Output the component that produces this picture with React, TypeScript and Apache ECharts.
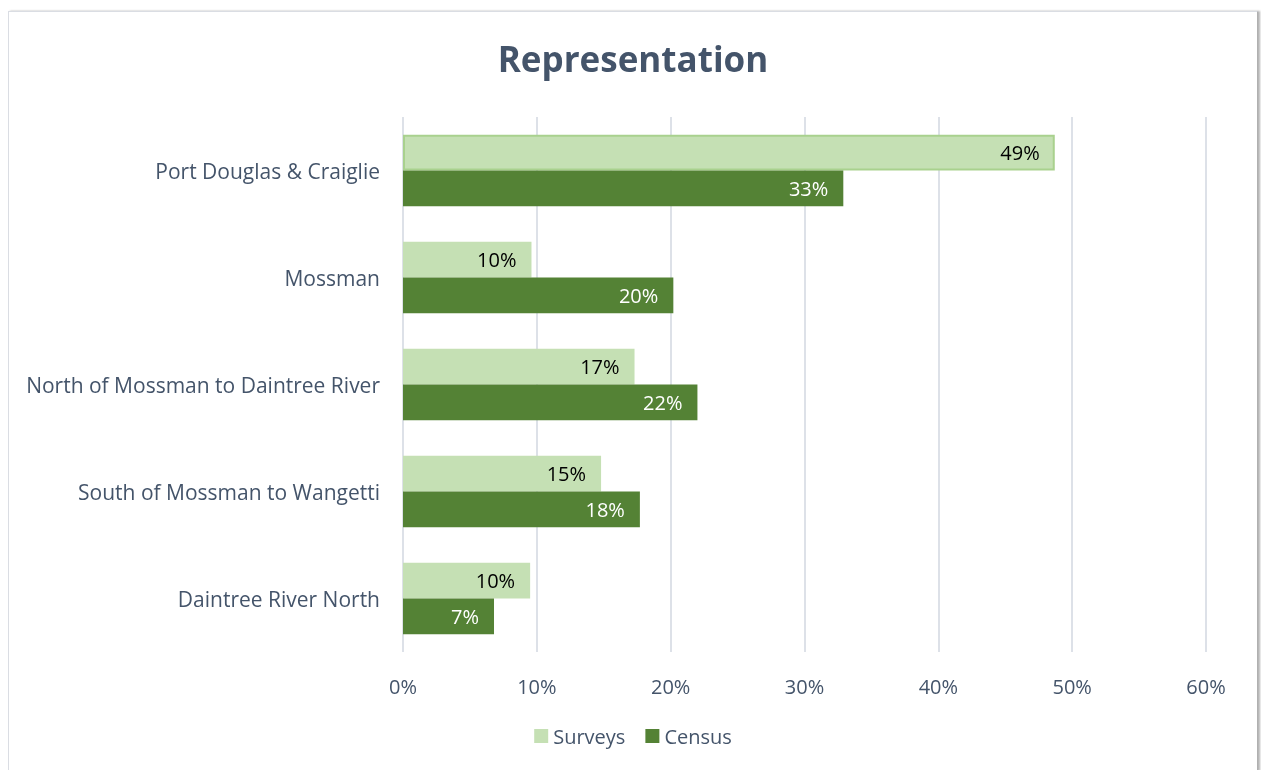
import React, { useEffect, useRef } from "react";
import * as echarts from "echarts";

const categories = [
  "Port Douglas & Craiglie",
  "Mossman",
  "North of Mossman to Daintree River",
  "South of Mossman to Wangetti",
  "Daintree River North",
];
const surveys = [48.7, 9.6, 17.3, 14.8, 9.5];
const census = [32.9, 20.2, 22.0, 17.7, 6.8];
const xTicks = [0, 10, 20, 30, 40, 50, 60];

const FONT = "'Open Sans', 'Noto Sans', sans-serif";
const SLATE = "#44546A";

export default function App() {
  const ref = useRef<HTMLDivElement>(null);
  useEffect(() => {
    if (!ref.current) return;
    const chart = echarts.init(ref.current, undefined, { renderer: "svg" });
    chart.setOption({
      animation: false,
      textStyle: { fontFamily: FONT },
      title: {
        text: "Representation",
        left: "center",
        top: 24,
        textStyle: { fontFamily: FONT, fontSize: 35, fontWeight: "bold", color: SLATE },
      },
      legend: {
        data: ["Surveys", "Census"],
        left: "center",
        top: 709,
        itemWidth: 14,
        itemHeight: 14,
        itemGap: 20,
        icon: "rect",
        textStyle: { fontFamily: FONT, fontSize: 20, color: SLATE },
      },
      grid: { left: 394, top: 105, width: 803, height: 535 },
      xAxis: {
        type: "value",
        min: xTicks[0],
        max: xTicks[xTicks.length - 1],
        interval: 10,
        axisLine: { show: false },
        axisTick: { show: false },
        splitLine: { show: true, lineStyle: { color: "#DDE1E8", width: 2 } },
        axisLabel: {
          formatter: (v: number) => `${v}%`,
          color: SLATE,
          fontSize: 20,
          margin: 24,
          fontFamily: FONT,
        },
      },
      yAxis: {
        type: "category",
        data: categories,
        inverse: true,
        axisLine: { show: false },
        axisTick: { show: false },
        axisLabel: { color: SLATE, fontSize: 21, margin: 23, fontFamily: FONT },
      },
      series: [
        {
          name: "Surveys",
          type: "bar",
          data: surveys.map((v, i) =>
            i === 0
              ? { value: v, itemStyle: { borderColor: "#A9D18E", borderWidth: 2 } }
              : v
          ),
          itemStyle: { color: "#C5E0B4" },
          barGap: "0%",
          barCategoryGap: "33%",
          label: {
            show: true,
            position: "insideRight",
            distance: 15,
            color: "#000000",
            fontSize: 20,
            fontFamily: FONT,
            formatter: (p: any) => `${Math.round(p.value)}%`,
          },
        },
        {
          name: "Census",
          type: "bar",
          data: census,
          itemStyle: { color: "#548235" },
          barGap: "0%",
          barCategoryGap: "33%",
          label: {
            show: true,
            position: "insideRight",
            distance: 15,
            color: "#FFFFFF",
            fontSize: 20,
            fontFamily: FONT,
            formatter: (p: any) => `${Math.round(p.value)}%`,
          },
        },
      ],
    });
    return () => chart.dispose();
  }, []);
  return (
    <div
      style={{
        position: "fixed",
        left: 8,
        top: 11,
        width: 1248,
        height: 759,
        border: "1px solid #DADDE3",
        borderRight: "1px solid #B0B0B0",
        borderBottom: "none",
        boxShadow: "2px 0 2px rgba(0,0,0,0.3)",
        background: "#fff",
      }}
    >
      <div ref={ref} style={{ width: 1248, height: 759 }} />
    </div>
  );
}
